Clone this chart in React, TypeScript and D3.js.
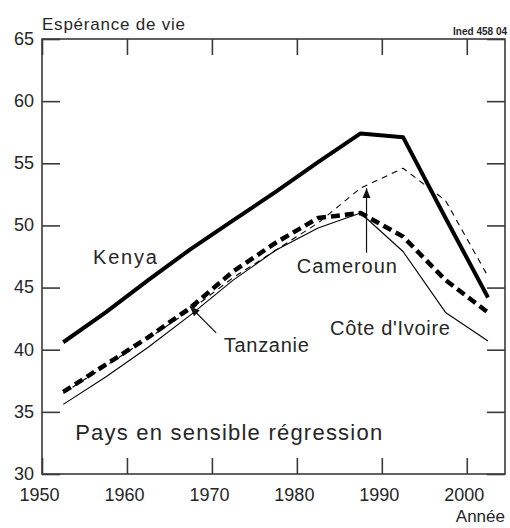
import React, { useEffect, useRef } from 'react';
import * as d3 from 'd3';

// 5-year period midpoints
const years = [1952.5, 1957.5, 1962.5, 1967.5, 1972.5, 1977.5, 1982.5, 1987.5, 1992.5, 1997.5, 2002.5];
const kenya = [40.6, 43.0, 45.6, 48.1, 50.4, 52.7, 55.1, 57.4, 57.1, 50.6, 44.2];
const tanzanie = [36.6, 38.8, 41.0, 43.4, 46.3, 48.6, 50.6, 51.0, 49.1, 45.6, 43.0];
const cameroun = [36.5, 38.7, 40.9, 43.2, 45.8, 48.0, 50.2, 53.0, 54.6, 52.0, 45.9];
const coteIvoire = [35.6, 37.8, 40.2, 42.8, 45.6, 48.0, 49.8, 51.0, 47.9, 43.0, 40.7];

const xTicks = [1950, 1960, 1970, 1980, 1990, 2000];
const yTicks = [30, 35, 40, 45, 50, 55, 60, 65];

const FONT = "'Liberation Sans', Arial, sans-serif";
const TEXT = '#262626';

const App: React.FC = () => {
  const svgRef = useRef<SVGSVGElement>(null);

  useEffect(() => {
    if (!svgRef.current) return;
    const svg = d3.select(svgRef.current);
    svg.selectAll('*').remove();

    const width = 510;
    const height = 528;
    const margin = { top: 39, right: 5, bottom: 54, left: 42 };

    const x = d3.scaleLinear().domain([1950, 2004.5]).range([margin.left, width - margin.right]);
    const y = d3.scaleLinear().domain([30, 65]).range([height - margin.bottom, margin.top]);

    svg.append('rect').attr('width', width).attr('height', height).attr('fill', '#fff');

    // ### Frame
    svg
      .append('rect')
      .attr('x', x(1950))
      .attr('y', y(65))
      .attr('width', x(2004.5) - x(1950))
      .attr('height', y(30) - y(65))
      .attr('fill', 'none')
      .attr('stroke', '#3a3a3a')
      .attr('stroke-width', 1.6);

    // ### Axes (inward ticks on all four sides)
    const styleAxis = (g: d3.Selection<SVGGElement, unknown, null, undefined>) => {
      g.select('.domain').remove();
      g.selectAll('line').attr('stroke', '#3a3a3a').attr('stroke-width', 1.6);
      g.selectAll('text').attr('fill', TEXT).attr('font-family', FONT).attr('font-size', 18);
    };

    svg
      .append('g')
      .attr('transform', `translate(0, ${y(30)})`)
      .call(d3.axisBottom(x).tickValues(xTicks).tickSize(-16).tickPadding(0).tickFormat(d3.format('d')))
      .call(styleAxis)
      .call(g => g.selectAll('text').attr('y', 27).attr('dy', 0).attr('dx', -3));

    svg
      .append('g')
      .attr('transform', `translate(0, ${y(65)})`)
      .call(d3.axisTop(x).tickValues(xTicks).tickSize(-16).tickFormat(() => ''))
      .call(styleAxis);

    svg
      .append('g')
      .attr('transform', `translate(${x(1950)}, 0)`)
      .call(d3.axisLeft(y).tickValues(yTicks).tickSize(-18).tickPadding(8).tickFormat(d3.format('d')))
      .call(styleAxis)
      .call(g => g.selectAll('text').attr('dy', '0.3em'));

    svg
      .append('g')
      .attr('transform', `translate(${x(2004.5)}, 0)`)
      .call(d3.axisRight(y).tickValues(yTicks).tickSize(-18).tickFormat(() => ''))
      .call(styleAxis);

    // ### Titles
    svg
      .append('text')
      .attr('x', x(1950))
      .attr('y', 30)
      .attr('font-family', FONT)
      .attr('font-size', 17)
      .attr('textLength', 143)
      .attr('fill', TEXT)
      .text('Espérance de vie');

    svg
      .append('text')
      .attr('x', 507)
      .attr('y', 35)
      .attr('text-anchor', 'end')
      .attr('font-family', FONT)
      .attr('font-size', 10)
      .attr('font-weight', 'bold')
      .attr('fill', TEXT)
      .text('Ined 458 04');

    svg
      .append('text')
      .attr('x', 505)
      .attr('y', 522)
      .attr('text-anchor', 'end')
      .attr('font-family', FONT)
      .attr('font-size', 17)
      .attr('fill', TEXT)
      .text('Année');

    // ### Lines
    const series = [
      { values: coteIvoire, width: 1.1, dash: null },
      { values: cameroun, width: 1.1, dash: '6,5' },
      { values: tanzanie, width: 4.5, dash: '9,5' },
      { values: kenya, width: 4, dash: null },
    ];

    const line = d3
      .line<number>()
      .x((_, i) => x(years[i]))
      .y(d => y(d));

    series.forEach(s => {
      svg
        .append('path')
        .datum(s.values)
        .attr('fill', 'none')
        .attr('stroke', '#000')
        .attr('stroke-width', s.width)
        .attr('stroke-linejoin', 'round')
        .attr('stroke-dasharray', s.dash)
        .attr('d', line);
    });

    // ### Annotations
    const defs = svg.append('defs');
    defs
      .append('marker')
      .attr('id', 'arrow')
      .attr('viewBox', '0 0 10 10')
      .attr('refX', 10)
      .attr('refY', 5)
      .attr('markerWidth', 10)
      .attr('markerHeight', 10)
      .attr('markerUnits', 'userSpaceOnUse')
      .attr('orient', 'auto')
      .append('path')
      .attr('d', 'M0,1 L10,5 L0,9 Z')
      .attr('fill', '#111');

    const arrows = [
      { from: [1970.5, 41.35], to: [1967.4, 43.5] },
      { from: [1988.2, 47.8], to: [1988.2, 53.0] },
    ];
    arrows.forEach(a => {
      svg
        .append('line')
        .attr('x1', x(a.from[0]))
        .attr('y1', y(a.from[1]))
        .attr('x2', x(a.to[0]))
        .attr('y2', y(a.to[1]))
        .attr('stroke', '#111')
        .attr('stroke-width', 1.2)
        .attr('marker-end', 'url(#arrow)');
    });

    const labels = [
      { text: 'Kenya', year: 1956, value: 46.9, size: 20, len: 64 },
      { text: 'Tanzanie', year: 1971.4, value: 39.8, size: 20, len: 85 },
      { text: 'Cameroun', year: 1980, value: 46.2, size: 20, len: 100 },
      { text: "Côte d'Ivoire", year: 1983.9, value: 41.2, size: 20, len: 120 },
      { text: 'Pays en sensible régression', year: 1953.9, value: 32.7, size: 22, len: 307 },
    ];
    labels.forEach(l => {
      svg
        .append('text')
        .attr('x', x(l.year))
        .attr('y', y(l.value))
        .attr('font-family', FONT)
        .attr('font-size', l.size)
        .attr('textLength', l.len)
        .attr('fill', TEXT)
        .text(l.text);
    });
  }, []);

  return (
    <svg
      ref={svgRef}
      width={510}
      height={528}
      style={{ position: 'absolute', left: 0, top: 0 }}
    />
  );
};

export default App;
